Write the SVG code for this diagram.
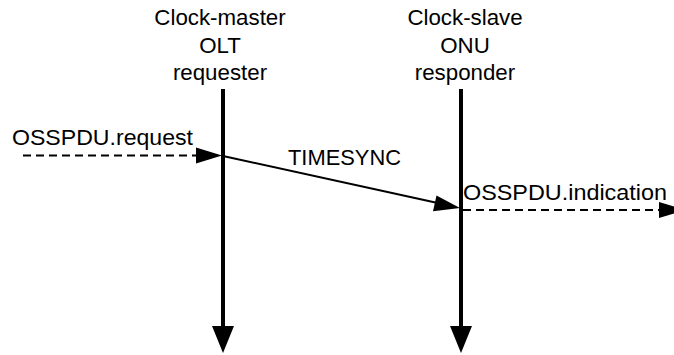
<svg xmlns="http://www.w3.org/2000/svg" width="674" height="355" viewBox="0 0 674 355">
<style>
text{font-family:"Liberation Sans",Arial,sans-serif;font-size:22.3px;fill:#000}
.c{text-anchor:middle}
.life{stroke:#000;stroke-width:4;fill:none}
.dash{stroke:#000;stroke-width:2;stroke-dasharray:8 5;fill:none}
.msg{stroke:#000;stroke-width:2;fill:none}
.head{fill:#000}
</style>
<rect width="674" height="355" fill="#fff"/>
<g id="olt">
<text class="c" x="220" y="25">Clock-master</text>
<text class="c" x="220" y="53">OLT</text>
<text class="c" x="220" y="80">requester</text>
<line class="life" x1="223" y1="89" x2="223" y2="328"/>
<polygon class="head" points="212,326 234,326 223,353"/>
</g>
<g id="onu">
<text class="c" x="465" y="25">Clock-slave</text>
<text class="c" x="465" y="53">ONU</text>
<text class="c" x="465" y="80">responder</text>
<line class="life" x1="461" y1="89" x2="461" y2="328"/>
<polygon class="head" points="450,326 472,326 461,353"/>
</g>
<g id="connectors">
<line class="dash" x1="23" y1="155.5" x2="198" y2="155.5"/>
<polygon class="head" points="196,147.5 222,155.5 196,163.5"/>
<text x="12" y="145" textLength="181" lengthAdjust="spacingAndGlyphs">OSSPDU.request</text>
<line class="msg" x1="223" y1="156" x2="440" y2="203.5"/>
<polygon class="head" points="436.5,195.5 460,208 433,211.3"/>
<text x="288" y="165" textLength="113" lengthAdjust="spacingAndGlyphs">TIMESYNC</text>
<line class="dash" x1="463" y1="210" x2="660" y2="210"/>
<polygon class="head" points="659,202 685,210 659,218"/>
<text x="463" y="200" textLength="204" lengthAdjust="spacingAndGlyphs">OSSPDU.indication</text>
</g>
</svg>
